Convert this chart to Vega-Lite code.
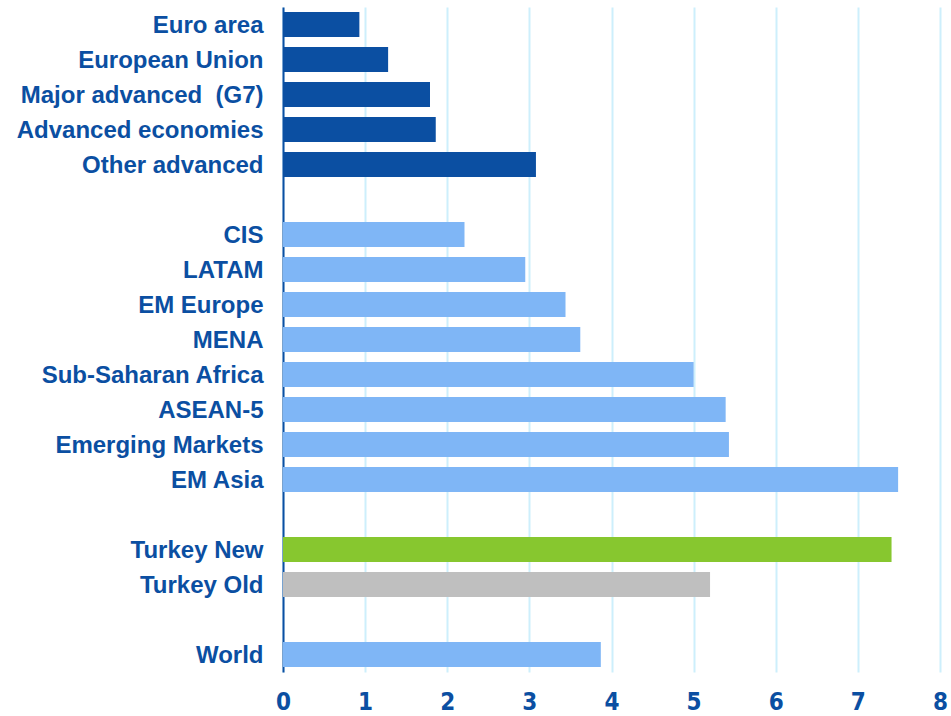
{
  "$schema": "https://vega.github.io/schema/vega-lite/v6.json",
  "width": 657,
  "height": 665,
  "autosize": {"type": "none"},
  "padding": {"left": 283, "top": 7, "right": 11, "bottom": 44},
  "background": "white",
  "config": {"view": {"stroke": null}},
  "data": {
    "values": [
      {"region": "Euro area\u00a0", "value": 0.93, "group": "advanced"},
      {"region": "European Union", "value": 1.28, "group": "advanced"},
      {"region": "Major advanced\u00a0\u00a0(G7)", "value": 1.79, "group": "advanced"},
      {"region": "Advanced economies", "value": 1.86, "group": "advanced"},
      {"region": "Other advanced", "value": 3.08, "group": "advanced"},
      {"region": "CIS", "value": 2.21, "group": "emerging"},
      {"region": "LATAM", "value": 2.95, "group": "emerging"},
      {"region": "EM Europe", "value": 3.44, "group": "emerging"},
      {"region": "MENA", "value": 3.62, "group": "emerging"},
      {"region": "Sub-Saharan Africa", "value": 5.0, "group": "emerging"},
      {"region": "ASEAN-5", "value": 5.39, "group": "emerging"},
      {"region": "Emerging Markets", "value": 5.43, "group": "emerging"},
      {"region": "EM Asia", "value": 7.49, "group": "emerging"},
      {"region": "Turkey New\u00a0", "value": 7.41, "group": "turkeynew"},
      {"region": "Turkey Old", "value": 5.2, "group": "turkeyold"},
      {"region": "World", "value": 3.87, "group": "emerging"}
    ]
  },
  "mark": {"type": "bar"},
  "encoding": {
    "y": {
      "field": "region",
      "type": "nominal",
      "title": null,
      "scale": {
        "domain": ["Euro area\u00a0", "European Union", "Major advanced\u00a0\u00a0(G7)", "Advanced economies", "Other advanced", " ", "CIS", "LATAM", "EM Europe", "MENA", "Sub-Saharan Africa", "ASEAN-5", "Emerging Markets", "EM Asia", "  ", "Turkey New\u00a0", "Turkey Old", "   ", "World"],
        "paddingInner": 0.286,
        "paddingOuter": 0.143
      },
      "axis": {
        "ticks": false,
        "grid": false,
        "domain": true,
        "domainColor": "#0B4FA2",
        "domainWidth": 2,
        "labelFont": "Liberation Sans",
        "labelFontWeight": "bold",
        "labelFontSize": 24,
        "labelColor": "#0B4FA2",
        "labelPadding": 20,
        "labelOffset": 1.5,
        "labelLimit": 400
      }
    },
    "x": {
      "field": "value",
      "type": "quantitative",
      "title": null,
      "scale": {"domain": [0, 8], "nice": false},
      "axis": {
        "values": [0, 1, 2, 3, 4, 5, 6, 7, 8],
        "ticks": false,
        "domain": false,
        "grid": true,
        "gridColor": "#CDEFFC",
        "gridWidth": 2,
        "labelFlush": false,
        "labelFont": "DejaVu Sans Condensed, Liberation Sans",
        "labelFontWeight": "bold",
        "labelFontSize": 24,
        "labelColor": "#0B4FA2",
        "labelPadding": 18
      }
    },
    "color": {
      "field": "group",
      "type": "nominal",
      "legend": null,
      "scale": {
        "domain": ["advanced", "emerging", "turkeynew", "turkeyold"],
        "range": ["#0B4FA2", "#7FB6F6", "#87C72F", "#BFBFBF"]
      }
    }
  }
}
